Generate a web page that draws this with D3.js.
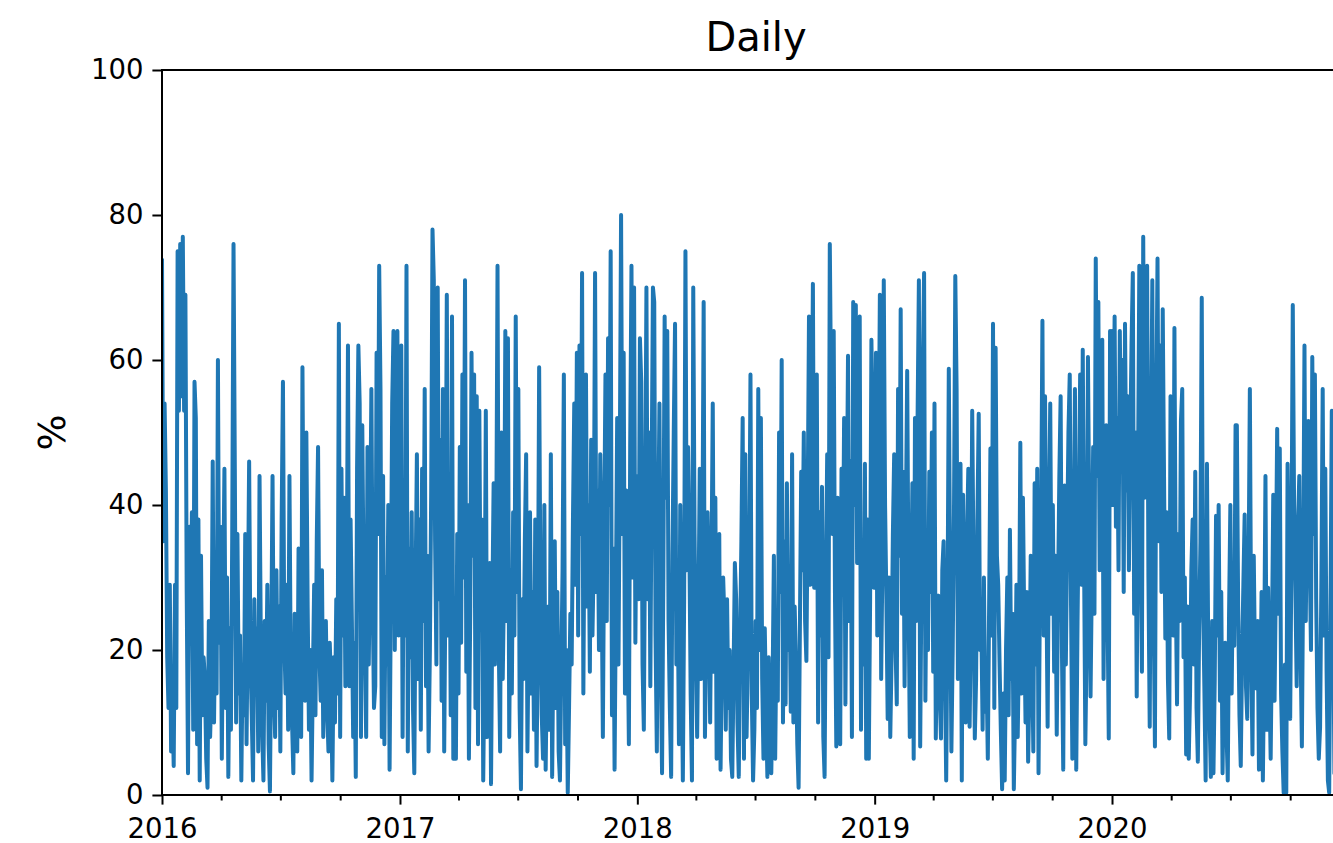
<!DOCTYPE html>
<html lang="en" dir="ltr">
  <head>
    <meta charset="utf-8">
    <script type="text/javascript" src="https://cdn.jsdelivr.net/npm/d3@7"></script>
    <style>
      body { margin:0; background:#fff; }
      text { font-family:"DejaVu Sans", sans-serif; fill:#000; }
    </style>
  </head>
  <body>
    <svg id='chart'></svg>
  </body>
  <script type="text/javascript">

    // one reading every 2 days, starting 1 Jan of each year
    var values2016 = [74,35,54,42,19,12,29,6,14,4,
      29,12,75,53,76,55,77,53,69,28, 3,37,22,39,9,57,52,7,38,2,
      33,11,19,16,5,1,24,8,15,46, 10,26,14,60,21,37,5,27,45,12,
      30,2.5,23,9,36,76,45,10,36,14, 22,2,18,11,36,7,25,46,19,11,
      2,27,14,23,6,44,21,9,2,24, 13,29,7,0.5,21,44,15,8,31,12,
      26,6,38,57,22,14,29,9,44,17, 10,3,25,21,6,34,18,8,59,30,
      13,50,26,9,20,2,16,29,11,35, 48,20,13,31,8,18,24,12,6,21,
      15,2,19,10,27,14,65,8,45,22, 41,15,26,62,15,38,24,8,21,2.5,
      45,62,54,8,51,30,20,8,48,18, 35,56,27,12,15,61,36,73,56,8,
      44,7,30,18,40,3.5,28,54,64,20, 45,64,22];

    var values2017 = [30,62,8,41,22,73,6,34,19,39,
      12,3,29,47,16,38,9,45,24,56, 15,33,6,20,42,78,71,35,18,70,
      27,49,13,56,6,30,69,22,44,11, 66,5,27,5,36,14,48,21,58,30,
      71,17,40,5,25,61,33,58,12,55, 7,53,23,38,2,19,53,8,28,32,
      1.5,26,43,18,34,73,20,6,50,16, 29,64,24,63,8,31,14,39,22,66,
      28,56,12,0.8,27,16,35,47,6,24, 39,14,28,9,38,4,21,59,28,11,
      5,40,3.5,18,26,9,47,2.5,22,35, 12,28,6,2,17,31,58,7,20,0.3,
      12,25,18,38,54,29,61,22,62,36, 72,14,44,58,26,40,17,49,22,33,
      72,28,42,20,47,31,8,36,58,24, 63,40,75,11,34,3.5,27,52,18,45,
      80,36,61,14,42,25,7,48,73,30, 70,21,44];

    var values2018 = [40,27,63,57,18,9,38,70,27,50,
      15,44,70,68,22,6,35,54,19,3, 30,66,41,64,24,12,2.5,33,50,65,
      18,29,7,40,22,2,27,75,31,48, 35,14,2,70,36,19,8,25,45,16,
      33,68,8,22,39,28,10,31,54,17, 41,5,23,36,3.5,19,30,24,9,27,
      12,20,5,2.5,17,32,27,10,2.5,21, 35,52,5,47,8,19,30,58,14,2,
      9,24,12,56,20,52,16,5,23,12, 2.5,19,8,3,15,33,5,22,13,50,
      28,60,10,35,12.5,43,20,30,11.5,47, 10,26,18,7,1,23,44.6,31,50,24,
      18.5,40,66,29,45,70.5,28.6,36,58,10, 39,22,42.5,8,2.5,30,47,19,76,55,
      36,64,27,6.7,41,15,7,45,28,52, 12.5,37,60.6,24,46,8,68,40,67.6,32,
      55,66,9,34,18,45.7,5,38,5,27, 62.8,48,28.6];

    var values2019 = [35,61,22,44,69,16,33,71,40,27,
      10.5,30,8,19,36,47,21,12.5,56,33, 67,25,44.6,15,38,58.5,29,8,26,43,
      5,52,24,52,71,6.7,30,58.5,72,13, 35,20,44.6,28,50,17,54,7.8,22,27.5,
      14,7.8,31,35,18,2,25,58.8,30,6, 20,39,71.6,56,16,28,45.7,2,41.4,19,
      10,35,45,9.4,24,53,32,7.8,16,38, 52.6,20,24,9,30,11.5,17,5,26,47.8,
      22,65,12,61.7,33,29,18.5,9,0.8,14, 2,20,30,11,36.6,16,25,0.8,12,29,
      8,21,48.6,14,41,24,10,28,4.6,15, 33,20.6,6,43,18,45,3,26,38,65.4,
      22,55,30,9.4,37,54,25,40,17,33, 8.3,28,44,55,20,3.5,42.7,18,35,50,
      58,26,5,34,56,3.5,24,40,58,29, 61.4,33,7,21,60.4,38,13.6,30,48,25,
      74,44,68,31,55,62.8,16,40,51,27, 7.8,64,40];

    var values2020 = [64,40,66,37,52,31,64,45,60,28,
      65,42,55,31,48,62,72,25,50,13.6, 44,73,36,17,77,41,58,73,30,9.4,
      47,71,26,6.7,52,74,35,62,28,67, 44,21.6,39,16,7.8,55,33,22,64.4,29,
      12.5,36,24,51.6,56,19,30,5.6,26,5, 14,31,38,18,44.6,12,4.6,23,35,68.6,
      27,15,2,45.7,20,11,2.5,24,3,16, 38.5,22,40,13,28,3,17,21,9,2,
      25,40,14,31,20.6,51,51,26,11,4, 19,29,38.7,15,10.5,30,56,21,5.6,33,
      17,14.7,24,3.5,12,28,2,19,44,9, 28.6,16,5,22,41.4,13,30,50.5,25,47.8,
      14,6,0.3,18,0.3,45.7,27,10.5,34,67.6, 40,28.6,15,37,44,20,6.7,31,62,24,
      42,51.6,33,20,60.4,36,58,27,12,5, 9.4,30,56,22,45,17,2,0.3,26,53,
      28,3,38,15,31,22];

    var years = [2016,2017,2018,2019,2020];
    var yearValues = [values2016,values2017,values2018,values2019,values2020];
    var yTicks = [0,20,40,60,80,100];
    var title = 'Daily';
    var yLabel = '%';

    var width = 1333;
    var height = 843;
    // plot box (the right edge falls just past the window)
    var pL = 162, pR = 1350, pT = 70, pB = 795;

    var data = [];
    years.forEach(function(yr,k){
      var start = new Date(Date.UTC(yr,0,1));
      yearValues[k].forEach(function(v,i){
        data.push({date: d3.utcDay.offset(start, 2*i), value: v});
      });
    });

    var x = d3.scaleUtc()
      .domain([new Date(Date.UTC(2016,0,1)), new Date(Date.UTC(2021,0,1))])
      .range([pL,pR]);
    var y = d3.scaleLinear().domain([0,100]).range([pB,pT]);

    var svg = d3.select('#chart')
      .attr('width',width)
      .attr('height',height)
      .style('display','block');

    svg.append('rect').attr('width',width).attr('height',height).attr('fill','#fff');

    svg.append('clipPath').attr('id','plot')
      .append('rect')
      .attr('x',pL).attr('y',pT)
      .attr('width',pR-pL).attr('height',pB-pT);

    var line = d3.line()
      .x(function(d){ return x(d.date); })
      .y(function(d){ return y(d.value); });

    svg.append('path')
      .datum(data)
      .attr('clip-path','url(#plot)')
      .attr('d',line)
      .attr('fill','none')
      .attr('stroke','#1f77b4')
      .attr('stroke-width',4)
      .attr('stroke-linejoin','round');

    // x axis, major ticks on years
    var xMajor = svg.append('g')
      .attr('transform','translate(0,'+pB+')')
      .call(d3.axisBottom(x)
        .tickValues(years.map(function(yr){ return new Date(Date.UTC(yr,0,1)); }))
        .tickFormat(d3.utcFormat('%Y'))
        .tickSize(9.6)
        .tickPadding(14));

    // quarterly minor ticks
    var minors = d3.utcMonth.range(new Date(Date.UTC(2016,0,1)), new Date(Date.UTC(2021,0,1)), 3)
      .filter(function(d){ return d.getUTCMonth() !== 0; });
    var xMinor = svg.append('g')
      .attr('transform','translate(0,'+pB+')')
      .call(d3.axisBottom(x).tickValues(minors).tickFormat('').tickSize(5.5));

    var yAxis = svg.append('g')
      .attr('transform','translate('+pL+',0)')
      .call(d3.axisLeft(y).tickValues(yTicks).tickSize(9.6).tickPadding(9));

    [xMajor,xMinor,yAxis].forEach(function(g){
      g.select('.domain').remove();
      g.selectAll('line').attr('stroke','#000').attr('stroke-width',2);
      g.selectAll('text').style('font-size','27.5px').attr('fill','#000');
    });

    // spines
    svg.append('g')
      .attr('stroke','#000')
      .attr('stroke-width',2)
      .selectAll('line')
      .data([[pL,pT,pL,pB],[pL,pB,pR,pB],[pL,pT,pR,pT],[pR,pT,pR,pB]])
      .enter().append('line')
      .attr('x1',function(d){ return d[0]; })
      .attr('y1',function(d){ return d[1]; })
      .attr('x2',function(d){ return d[2]; })
      .attr('y2',function(d){ return d[3]; })
      .attr('stroke-linecap','square');

    svg.append('text')
      .text(title)
      .attr('x',(pL+pR)/2)
      .attr('y',51)
      .attr('text-anchor','middle')
      .style('font-size','40px');

    svg.append('text')
      .text(yLabel)
      .attr('transform','translate(52,'+((pT+pB)/2)+') rotate(-90)')
      .attr('text-anchor','middle')
      .attr('dy','0.35em')
      .style('font-size','38px');

  </script>
</html>
